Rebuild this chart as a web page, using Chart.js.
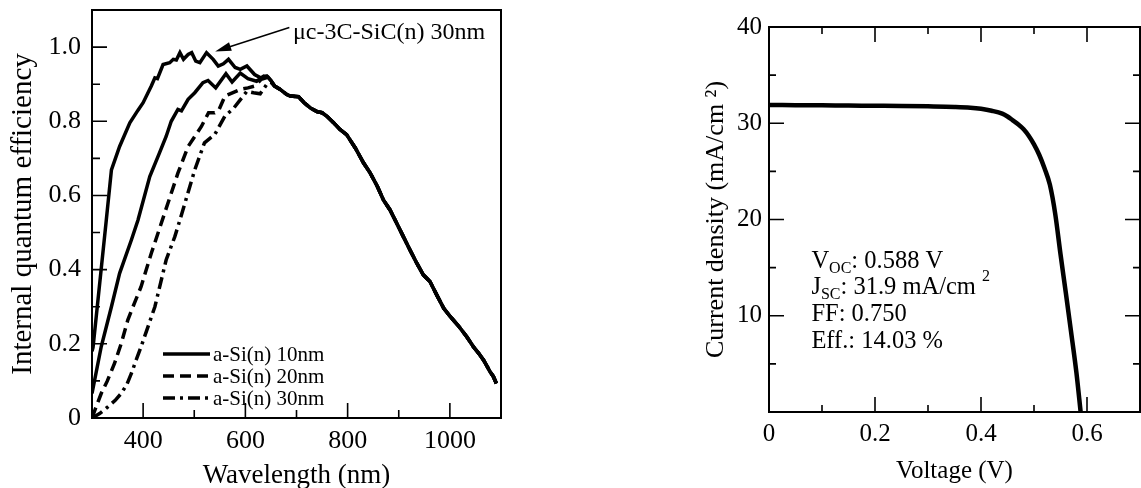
<!DOCTYPE html>
<html>
<head>
<meta charset="utf-8">
<script src="https://cdn.jsdelivr.net/npm/chart.js@4.4.0/dist/chart.umd.min.js"></script>
<style>
  body { margin: 0; background: #fff; }
  canvas { position: absolute; top: 0; }
  #iqeChart { left: 0; }
  #jvChart { left: 690px; }
</style>
</head>
<body>
<canvas id="iqeChart" width="560" height="488"></canvas>
<canvas id="jvChart" width="451" height="488"></canvas>
<script>
// ---- internal quantum efficiency ----
const sicLabel = 'μc-3C-SiC(n) 30nm';
const asiLabels = ['a-Si(n) 10nm', 'a-Si(n) 20nm', 'a-Si(n) 30nm'];

// above ~660 nm all four curves lie on top of each other
const tailWl  = [668, 681, 688, 704, 715, 727, 740, 750, 759, 772, 785, 798, 815, 831, 844, 858, 870, 883, 896, 909, 922, 935, 948, 961, 975, 988, 1001, 1017, 1033, 1046, 1056, 1066, 1079, 1085, 1091];
const tailIqe = [0.886, 0.872, 0.868, 0.866, 0.85, 0.836, 0.826, 0.823, 0.814, 0.797, 0.778, 0.764, 0.728, 0.688, 0.661, 0.625, 0.588, 0.561, 0.525, 0.489, 0.453, 0.418, 0.386, 0.368, 0.33, 0.296, 0.273, 0.248, 0.219, 0.192, 0.175, 0.156, 0.124, 0.112, 0.093];

const sicWl  = [300, 302, 328, 338, 354, 374, 390, 400, 416, 423, 428, 439, 452, 459, 465, 472, 479, 488, 495, 503, 511, 524, 537, 547, 557, 567, 580, 590, 603, 618, 630, 642, 650, 657];
const sicIqe = [0.18, 0.19, 0.534, 0.669, 0.732, 0.796, 0.83, 0.85, 0.895, 0.917, 0.915, 0.953, 0.958, 0.967, 0.965, 0.985, 0.967, 0.98, 0.985, 0.962, 0.958, 0.985, 0.967, 0.949, 0.955, 0.967, 0.945, 0.94, 0.949, 0.926, 0.917, 0.922, 0.91, 0.895];

const asi10Wl  = [300, 318, 338, 354, 377, 390, 413, 432, 445, 455, 468, 475, 488, 501, 517, 527, 542, 562, 574, 590, 605, 622, 636, 644, 650, 657];
const asi10Iqe = [0.066, 0.192, 0.3, 0.39, 0.48, 0.534, 0.651, 0.715, 0.759, 0.8, 0.832, 0.828, 0.859, 0.877, 0.904, 0.91, 0.89, 0.928, 0.906, 0.93, 0.915, 0.908, 0.922, 0.92, 0.91, 0.895];

const asi20Wl  = [300, 308, 318, 330, 344, 357, 370, 383, 396, 416, 442, 468, 488, 514, 528, 540, 548, 560, 570, 590, 605, 618, 631, 642, 650, 657];
const asi20Iqe = [0, 0.03, 0.066, 0.1, 0.147, 0.2, 0.264, 0.31, 0.354, 0.444, 0.552, 0.66, 0.732, 0.786, 0.823, 0.823, 0.83, 0.868, 0.874, 0.886, 0.89, 0.895, 0.913, 0.918, 0.91, 0.895];

const asi30Wl  = [300, 315, 331, 345, 357, 368, 377, 386, 396, 423, 445, 462, 472, 501, 520, 540, 560, 577, 603, 616, 629, 642, 650, 657];
const asi30Iqe = [0, 0.012, 0.03, 0.047, 0.066, 0.09, 0.12, 0.155, 0.192, 0.3, 0.426, 0.489, 0.534, 0.669, 0.742, 0.764, 0.814, 0.835, 0.881, 0.877, 0.874, 0.9, 0.905, 0.895];

const wlTicks = [400, 600, 800, 1000];
const iqeTicks = [0, 0.2, 0.4, 0.6, 0.8, 1.0];

// ---- J-V characteristic ----
const voltage = [0, 0.05, 0.1, 0.15, 0.2, 0.25, 0.3, 0.35, 0.38, 0.4, 0.42, 0.44, 0.45, 0.46, 0.47, 0.48, 0.49, 0.5, 0.51, 0.52, 0.53, 0.54, 0.55, 0.56, 0.57, 0.58, 0.588];
const current = [31.9, 31.88, 31.86, 31.84, 31.82, 31.8, 31.76, 31.7, 31.62, 31.5, 31.3, 31.0, 30.7, 30.3, 29.9, 29.4, 28.7, 27.8, 26.7, 25.3, 23.6, 20.6, 16.4, 12.4, 8.3, 4.1, 0];
const voltTicks = [0, 0.2, 0.4, 0.6];
const currentTicks = [10, 20, 30, 40];
const cellVoc = 0.588;
const cellJsc = 31.9;
const cellFF = 0.750;
const cellEff = 14.03;

Chart.defaults.font.family = "'Liberation Serif', 'Times New Roman', serif";
Chart.defaults.color = '#000';

const near = (list, v) => list.some(t => Math.abs(t - v) < 1e-6);
const toXY = (xs, ys) => xs.map((x, i) => ({ x, y: ys[i] }));

// fixed axis size, and no extra room for overhanging tick labels
const fixSize = (prop, size) => s => {
  s[prop] = size;
  s.paddingTop = s.paddingBottom = s.paddingLeft = s.paddingRight = 0;
};

// box around the plot area with ticks pointing inwards
const frameTicks = {
  id: 'frameTicks',
  afterDraw(chart, args, opts) {
    const { ctx, chartArea: a, scales: { x, y } } = chart;
    ctx.save();
    ctx.strokeStyle = '#000';
    ctx.lineWidth = 2;
    ctx.strokeRect(a.left, a.top, a.right - a.left, a.bottom - a.top);
    ctx.lineWidth = 1.6;
    ctx.beginPath();
    x.ticks.forEach(t => {
      const px = x.getPixelForValue(t.value);
      const len = t.label !== '' ? opts.major : opts.minor;
      ctx.moveTo(px, a.bottom);
      ctx.lineTo(px, a.bottom - len);
      if (opts.mirror) {
        ctx.moveTo(px, a.top);
        ctx.lineTo(px, a.top + len);
      }
    });
    y.ticks.forEach(t => {
      const py = y.getPixelForValue(t.value);
      const len = t.label !== '' ? opts.major : opts.minor;
      ctx.moveTo(a.left, py);
      ctx.lineTo(a.left + len, py);
      if (opts.mirror) {
        ctx.moveTo(a.right, py);
        ctx.lineTo(a.right - len, py);
      }
    });
    ctx.stroke();
    ctx.restore();
  }
};

// legend for the a-Si curves and the arrow pointing at the SiC curve
const iqeNotes = {
  id: 'iqeNotes',
  afterDraw(chart) {
    const { ctx, scales: { x, y } } = chart;
    const ds = chart.data.datasets;
    ctx.save();
    ctx.fillStyle = '#000';
    ctx.strokeStyle = '#000';

    ctx.font = "21px 'Liberation Serif'";
    ctx.textBaseline = 'middle';
    const rows = [354, 376, 398];
    for (let i = 1; i < ds.length; i++) {
      const ry = rows[i - 1];
      ctx.lineWidth = ds[i].borderWidth;
      ctx.setLineDash(ds[i].borderDash || []);
      ctx.beginPath();
      ctx.moveTo(163, ry);
      ctx.lineTo(210, ry);
      ctx.stroke();
      ctx.setLineDash([]);
      ctx.fillText(ds[i].label, 213, ry + 1);
    }

    ctx.font = "24px 'Liberation Serif'";
    ctx.textBaseline = 'alphabetic';
    ctx.fillText(ds[0].label, x.getPixelForValue(693), y.getPixelForValue(1.021));

    const x0 = x.getPixelForValue(686), y0 = y.getPixelForValue(1.053);
    const x1 = x.getPixelForValue(541), y1 = y.getPixelForValue(0.988);
    const ang = Math.atan2(y1 - y0, x1 - x0);
    ctx.lineWidth = 1.5;
    ctx.beginPath();
    ctx.moveTo(x0, y0);
    ctx.lineTo(x1 - 12 * Math.cos(ang), y1 - 12 * Math.sin(ang));
    ctx.stroke();
    ctx.beginPath();
    ctx.moveTo(x1, y1);
    ctx.lineTo(x1 - 16 * Math.cos(ang) + 4.5 * Math.sin(ang), y1 - 16 * Math.sin(ang) - 4.5 * Math.cos(ang));
    ctx.lineTo(x1 - 16 * Math.cos(ang) - 4.5 * Math.sin(ang), y1 - 16 * Math.sin(ang) + 4.5 * Math.cos(ang));
    ctx.closePath();
    ctx.fill();
    ctx.restore();
  }
};

// cell parameters written inside the J-V plot
const jvNotes = {
  id: 'jvNotes',
  afterDraw(chart) {
    const { ctx, scales: { x, y } } = chart;
    const big = "24.5px 'Liberation Serif'";
    const small = "16px 'Liberation Serif'";
    const left = x.getPixelForValue(0.08);
    let base = y.getPixelForValue(15);
    const step = 26.7;
    ctx.save();
    ctx.fillStyle = '#000';
    ctx.textBaseline = 'alphabetic';

    const run = parts => {
      let cx = left;
      parts.forEach(([txt, font, dy]) => {
        ctx.font = font;
        ctx.fillText(txt, cx, base + dy);
        cx += ctx.measureText(txt).width;
      });
      base += step;
    };
    run([['V', big, 0], ['OC', small, 5], [': ' + cellVoc.toFixed(3) + ' V', big, 0]]);
    run([['J', big, 0], ['SC', small, 5], [': ' + cellJsc.toFixed(1) + ' mA/cm ', big, 0], ['2', small, -13]]);
    run([['FF: ' + cellFF.toFixed(3), big, 0]]);
    run([['Eff.: ' + cellEff.toFixed(2) + ' %', big, 0]]);
    ctx.restore();
  }
};

const lineStyle = { borderColor: '#000', pointRadius: 0, fill: false, tension: 0 };

new Chart(document.getElementById('iqeChart'), {
  type: 'line',
  data: {
    datasets: [
      { ...lineStyle, label: sicLabel, data: toXY(sicWl.concat(tailWl), sicIqe.concat(tailIqe)), borderWidth: 3.5 },
      { ...lineStyle, label: asiLabels[0], data: toXY(asi10Wl.concat(tailWl), asi10Iqe.concat(tailIqe)), borderWidth: 3.5 },
      { ...lineStyle, label: asiLabels[1], data: toXY(asi20Wl.concat(tailWl), asi20Iqe.concat(tailIqe)), borderWidth: 3.5, borderDash: [11, 6] },
      { ...lineStyle, label: asiLabels[2], data: toXY(asi30Wl.concat(tailWl), asi30Iqe.concat(tailIqe)), borderWidth: 3.5, borderDash: [12, 5, 3, 5] }
    ]
  },
  options: {
    responsive: false,
    animation: false,
    events: [],
    layout: { padding: { left: 0, top: 10, right: 59, bottom: 0 } },
    plugins: {
      legend: { display: false },
      tooltip: { enabled: false },
      frameTicks: { major: 15, minor: 8, mirror: false }
    },
    scales: {
      x: {
        type: 'linear', min: 300, max: 1100,
        grid: { display: false, drawTicks: false },
        border: { display: false },
        ticks: {
          stepSize: 100, autoSkip: false, maxRotation: 0, padding: 10,
          font: { size: 26, lineHeight: 1 },
          callback: v => near(wlTicks, v) ? String(v) : ''
        },
        title: { display: true, text: 'Wavelength (nm)', font: { size: 27, lineHeight: 1 }, padding: { top: 0, bottom: -1 } },
        afterFit: fixSize('height', 70)
      },
      y: {
        min: 0, max: 1.1,
        grid: { display: false, drawTicks: false },
        border: { display: false },
        ticks: {
          stepSize: 0.1, maxTicksLimit: 20, autoSkip: false, padding: 11,
          font: { size: 26, lineHeight: 1 },
          callback: v => near(iqeTicks, v) ? (v === 0 ? '0' : v.toFixed(1)) : ''
        },
        title: { display: true, text: 'Internal quantum efficiency', font: { size: 29, lineHeight: 1 }, padding: { top: 9, bottom: 0 } },
        afterFit: fixSize('width', 92)
      }
    }
  },
  plugins: [frameTicks, iqeNotes]
});

new Chart(document.getElementById('jvChart'), {
  type: 'line',
  data: {
    datasets: [
      { ...lineStyle, label: 'J-V', data: toXY(voltage, current), borderWidth: 4.5, cubicInterpolationMode: 'monotone' }
    ]
  },
  options: {
    responsive: false,
    animation: false,
    events: [],
    layout: { padding: { left: 0, top: 27, right: 1, bottom: 0 } },
    plugins: {
      legend: { display: false },
      tooltip: { enabled: false },
      frameTicks: { major: 15, minor: 7, mirror: true }
    },
    scales: {
      x: {
        type: 'linear', min: 0, max: 0.7,
        grid: { display: false, drawTicks: false },
        border: { display: false },
        ticks: {
          stepSize: 0.1, autoSkip: false, maxRotation: 0, padding: 10,
          font: { size: 25, lineHeight: 1 },
          callback: v => near(voltTicks, v) ? (v === 0 ? '0' : v.toFixed(1)) : ''
        },
        title: { display: true, text: 'Voltage (V)', font: { size: 25, lineHeight: 1 }, padding: { top: 0, bottom: 4 } },
        afterFit: fixSize('height', 76)
      },
      y: {
        min: 0, max: 40,
        grid: { display: false, drawTicks: false },
        border: { display: false },
        ticks: {
          stepSize: 5, autoSkip: false, padding: 7,
          font: { size: 25, lineHeight: 1 },
          callback: v => near(currentTicks, v) ? String(v) : ''
        },
        title: { display: true, text: 'Current density (mA/cm ²)', font: { size: 26, lineHeight: 1 }, padding: { top: 13, bottom: 0 } },
        afterFit: fixSize('width', 79)
      }
    }
  },
  plugins: [frameTicks, jvNotes]
});
</script>
</body>
</html>
